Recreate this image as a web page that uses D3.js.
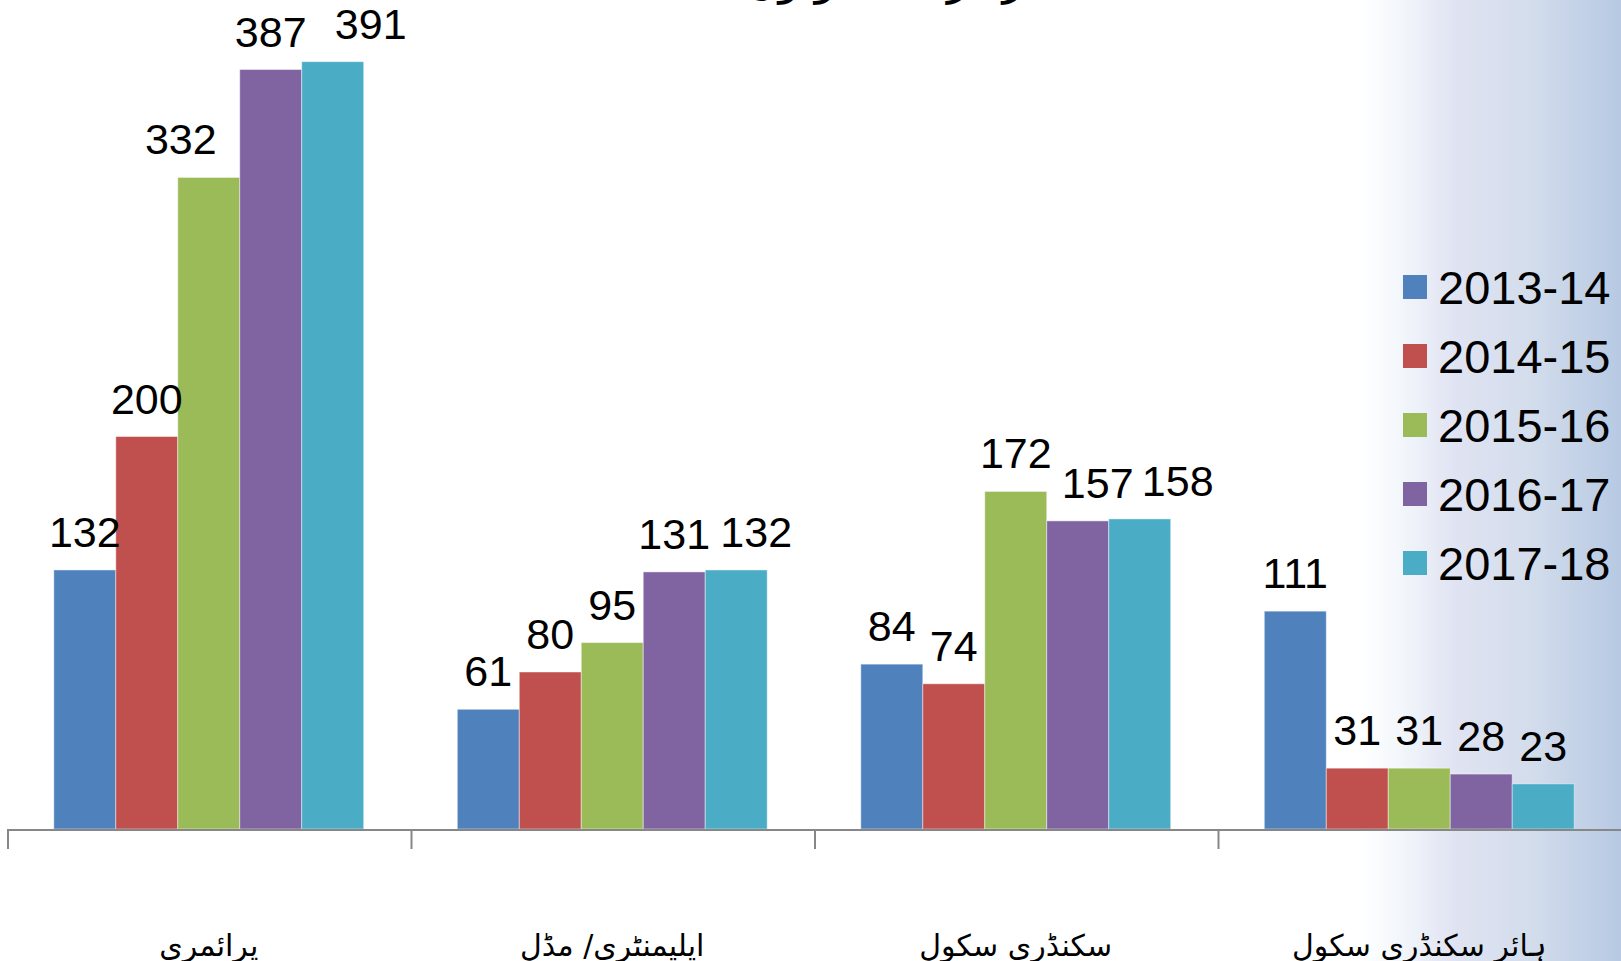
<!DOCTYPE html>
<meta charset="utf-8">
<head>
<title>Schools chart</title>
<script src="https://d3js.org/d3.v7.min.js"></script>
<style>
  body { margin: 0; background: #fff; }
  svg { display: block; }
  .val { font: 43px "Liberation Sans", Arial, sans-serif; fill: #000; text-anchor: middle; }
  .leg { font: 47px "Liberation Sans", Arial, sans-serif; fill: #000; }
  .cat { font: 30px "DejaVu Sans", sans-serif; fill: #000; text-anchor: middle; }
  .title { font: 44px "DejaVu Sans", sans-serif; fill: #000; text-anchor: middle; }
</style>
</head>
<body>
<script>

// categories (school levels) and years
var categories = ["پرائمری", "ایلیمنٹری/ مڈل", "سکنڈری سکول", "ہائر سکنڈری سکول"];
var years = ["2013-14", "2014-15", "2015-16", "2016-17", "2017-18"];

// values per year, one entry per category
var v2013 = [132, 61, 84, 111];
var v2014 = [200, 80, 74, 31];
var v2015 = [332, 95, 172, 31];
var v2016 = [387, 131, 157, 28];
var v2017 = [391, 132, 158, 23];
var series = [v2013, v2014, v2015, v2016, v2017];

var colors = ["#4f81bd", "#c0504d", "#9bbb59", "#8064a2", "#4bacc6"];

// sideways nudges of some value labels (as placed in the original)
var labelShift = [
  [0, 0, 0, 0],
  [0, 0, 0, 0],
  [-28, 0, 0, 0],
  [0, 0, 20, 0],
  [38, 20, 38, 0]
];

var width = 1621, height = 961;

var svg = d3.select("body").append("svg")
    .attr("width", width)
    .attr("height", height);

// background: white fading to pale blue on the right
var grad = svg.append("defs").append("linearGradient")
    .attr("id", "bg")
    .attr("x1", 0).attr("x2", width).attr("y1", 0).attr("y2", 0)
    .attr("gradientUnits", "userSpaceOnUse");
[[0, "#ffffff"], [1360, "#ffffff"], [1400, "#f3f7fb"], [1455, "#e0e3f2"],
 [1530, "#d3ddec"], [1621, "#b7c9e3"]].forEach(function(s) {
  grad.append("stop").attr("offset", s[0] / width).attr("stop-color", s[1]);
});
svg.append("rect").attr("width", width).attr("height", height).attr("fill", "url(#bg)");

// title (mostly cut off at the top edge)
svg.append("text")
    .attr("class", "title")
    .attr("x", 755)
    .attr("y", -6)
    .attr("direction", "rtl")
    .text("سرکاری سکولوں کی تعداد 2014");

// scales
var x0 = d3.scaleBand()
    .domain(categories.map(function(d, i) { return i; }))
    .range([7, 1621])
    .padding(0);

var x1 = d3.scaleBand()
    .domain(years.map(function(d, i) { return i; }))
    .range([x0.bandwidth() * 0.116, x0.bandwidth() * 0.884])
    .padding(0);

var y = d3.scaleLinear()
    .domain([0, 400])
    .range([829, 44]);

// bars
var groups = svg.selectAll(".grp")
    .data(categories)
  .enter().append("g")
    .attr("class", "grp")
    .attr("transform", function(d, i) { return "translate(" + x0(i) + ",0)"; });

groups.each(function(c, ci) {
  var g = d3.select(this);
  var rows = series.map(function(s, si) { return {si: si, v: s[ci]}; });

  g.selectAll("rect")
      .data(rows)
    .enter().append("rect")
      .attr("x", function(d) { return x1(d.si); })
      .attr("width", x1.bandwidth())
      .attr("y", function(d) { return y(d.v); })
      .attr("height", function(d) { return y(0) - y(d.v); })
      .attr("fill", function(d) { return colors[d.si]; })
      .attr("stroke", "rgba(255,255,255,0.45)")
      .attr("stroke-width", 1);

  g.selectAll("text")
      .data(rows)
    .enter().append("text")
      .attr("class", "val")
      .attr("x", function(d) { return x1(d.si) + x1.bandwidth() / 2 + labelShift[d.si][ci]; })
      .attr("y", function(d) { return y(d.v) - 23; })
      .text(function(d) { return d.v; });
});

// x axis line with tick marks at group boundaries
svg.append("line")
    .attr("x1", x0.range()[0]).attr("x2", x0.range()[1])
    .attr("y1", y(0) + 1).attr("y2", y(0) + 1)
    .attr("stroke", "#878787").attr("stroke-width", 2);

svg.selectAll(".tick")
    .data(categories)
  .enter().append("line")
    .attr("class", "tick")
    .attr("x1", function(d, i) { return x0(i) + 1; })
    .attr("x2", function(d, i) { return x0(i) + 1; })
    .attr("y1", y(0))
    .attr("y2", y(0) + 20)
    .attr("stroke", "#878787").attr("stroke-width", 2);

// category labels, cut off at the bottom edge
svg.selectAll(".cat")
    .data(categories)
  .enter().append("text")
    .attr("class", "cat")
    .attr("direction", "rtl")
    .attr("x", function(d, i) { return x0(i) + x0.bandwidth() / 2; })
    .attr("y", 956)
    .text(function(d) { return d; });

// legend
var legend = svg.selectAll(".legend")
    .data(years)
  .enter().append("g")
    .attr("class", "legend")
    .attr("transform", function(d, i) { return "translate(1403," + (275 + i * 69) + ")"; });

legend.append("rect")
    .attr("width", 24)
    .attr("height", 24)
    .attr("fill", function(d, i) { return colors[i]; });

legend.append("text")
    .attr("class", "leg")
    .attr("x", 35)
    .attr("y", 29)
    .text(function(d) { return d; });

</script>
</body>
